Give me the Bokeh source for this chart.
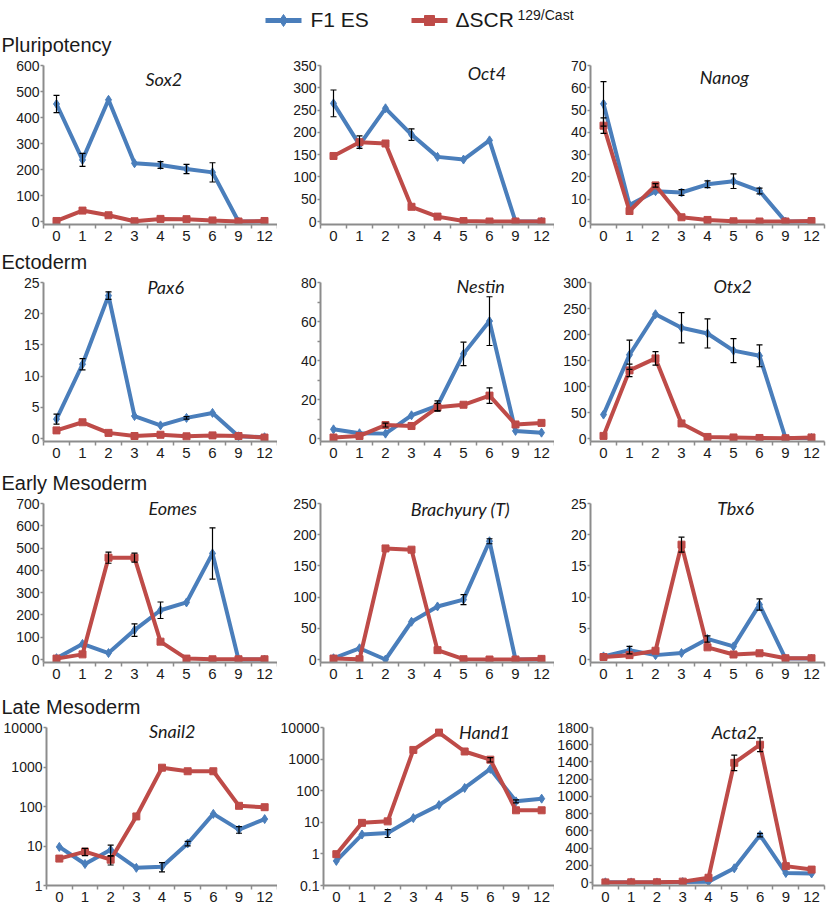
import math
from bokeh.plotting import figure
from bokeh.layouts import column, row
from bokeh.models import Range1d, FixedTicker, ColumnDataSource, Whisker, TeeHead, Label
from bokeh.embed import file_html
from bokeh.resources import INLINE

# ---------------- data ----------------
days = ["0", "1", "2", "3", "4", "5", "6", "9", "12"]
series_names = ["F1 ES", "\u0394SCR", "129/Cast"]

sox2_f1 = [452, 237, 468, 224, 217, 202, 189, 0, 0]
sox2_f1_err = [33, 25, 0, 0, 13, 18, 37, 0, 0]
sox2_scr = [2, 42, 24, 1, 10, 9, 4, 0, 2]
sox2_scr_err = [0, 0, 0, 0, 0, 0, 0, 0, 0]

oct4_f1 = [265, 172, 254, 195, 145, 139, 182, 0, 0]
oct4_f1_err = [30, 0, 0, 13, 0, 0, 0, 0, 0]
oct4_scr = [147, 178, 175, 33, 11, 1, 0, 0, 0]
oct4_scr_err = [0, 14, 0, 0, 0, 0, 0, 0, 0]

nanog_f1 = [52.8, 7.4, 13.6, 13.0, 16.7, 18.1, 13.7, 0, 0]
nanog_f1_err = [10, 0, 0, 1.3, 1.5, 3.3, 1.3, 0, 0]
nanog_scr = [43, 4.7, 16.2, 1.9, 0.7, 0.1, 0, 0, 0.2]
nanog_scr_err = [3.5, 0, 0.8, 0, 0, 0, 0, 0, 0]

pax6_f1 = [3.1, 11.9, 22.9, 3.6, 2.1, 3.3, 4.1, 0.35, 0.2]
pax6_f1_err = [0.8, 0.9, 0.6, 0, 0, 0.2, 0, 0, 0]
pax6_scr = [1.3, 2.6, 0.9, 0.4, 0.6, 0.35, 0.5, 0.4, 0.15]
pax6_scr_err = [0, 0, 0, 0, 0, 0, 0, 0, 0]

nestin_f1 = [4.7, 2.7, 2.5, 11.9, 16.8, 43.4, 60.2, 3.9, 3.0]
nestin_f1_err = [0, 0, 0, 0, 2.5, 6, 12.5, 0, 0]
nestin_scr = [0.5, 1.3, 6.9, 6.4, 16.0, 17.3, 22.0, 7.2, 8.0]
nestin_scr_err = [0, 0, 1, 0, 2, 0, 4, 0, 0]

otx2_f1 = [46, 161, 239, 213, 202, 169, 159, 1, 1]
otx2_f1_err = [0, 28, 0, 29, 28, 23, 21, 0, 0]
otx2_scr = [5, 131, 154, 29, 3, 2, 1, 0.5, 2]
otx2_scr_err = [0, 12, 13, 0, 0, 0, 0, 0, 0]

eomes_f1 = [6, 70, 29, 132, 221, 256, 476, 0, 0]
eomes_f1_err = [0, 0, 0, 28, 37, 0, 115, 0, 0]
eomes_scr = [4, 23, 457, 457, 80, 4, 1, 1, 1]
eomes_scr_err = [0, 0, 25, 20, 0, 0, 0, 0, 0]

brachy_f1 = [2, 18, 0, 60.5, 85, 96, 189.5, 0, 0]
brachy_f1_err = [0, 0, 0, 0, 0, 8, 4, 0, 0]
brachy_scr = [1.5, 0.5, 178, 176, 15, 0.5, 0, 0, 1]
brachy_scr_err = [0, 0, 0, 0, 0, 0, 0, 0, 0]

tbx6_f1 = [0.5, 1.5, 0.7, 1.05, 3.3, 2.1, 8.8, 0.15, 0.15]
tbx6_f1_err = [0, 0.6, 0, 0, 0.5, 0, 0.9, 0, 0]
tbx6_scr = [0.4, 0.7, 1.4, 18.4, 1.95, 0.8, 1.0, 0.2, 0.2]
tbx6_scr_err = [0, 0, 0, 1.2, 0, 0, 0, 0, 0]

snail2_f1 = [9.5, 3.5, 8.0, 2.8, 3.0, 11.6, 65, 26, 48]
snail2_f1_err = [0, 0, 2.5, 0, 0.8, 1.5, 0, 5, 0]
snail2_scr = [4.8, 7.2, 4.5, 56, 960, 780, 780, 104, 96]
snail2_scr_err = [0, 1.5, 1.2, 0, 0, 0, 0, 0, 0]

hand1_f1 = [0.6, 4.1, 4.6, 13.6, 35, 122, 490, 46, 56]
hand1_f1_err = [0, 0, 1.3, 0, 0, 0, 0, 5, 0]
hand1_scr = [0.98, 9.6, 10.7, 1950, 6900, 1740, 960, 24, 24]
hand1_scr_err = [0, 0, 0, 0, 0, 0, 150, 0, 0]

acta2_f1 = [2, 1, 1, 5, 10, 165, 550, 110, 105]
acta2_f1_err = [0, 0, 0, 0, 0, 0, 20, 0, 0]
acta2_scr = [1, 2, 3, 10, 55, 1390, 1600, 190, 150]
acta2_scr_err = [0, 0, 0, 0, 0, 90, 80, 0, 0]

sox2_ticks = [0, 100, 200, 300, 400, 500, 600]
oct4_ticks = [0, 50, 100, 150, 200, 250, 300, 350]
nanog_ticks = [0, 10, 20, 30, 40, 50, 60, 70]
pax6_ticks = [0, 5, 10, 15, 20, 25]
nestin_ticks = [0, 20, 40, 60, 80]
otx2_ticks = [0, 50, 100, 150, 200, 250, 300]
eomes_ticks = [0, 100, 200, 300, 400, 500, 600, 700]
brachy_ticks = [0, 50, 100, 150, 200, 250]
tbx6_ticks = [0, 5, 10, 15, 20, 25]
snail2_ticks = [1, 10, 100, 1000, 10000]
hand1_ticks = [0.1, 1, 10, 100, 1000, 10000]
acta2_ticks = [0, 200, 400, 600, 800, 1000, 1200, 1400, 1600, 1800]

section_names = ["Pluripotency", "Ectoderm", "Early Mesoderm", "Late Mesoderm"]

# ---------------- style ----------------
BLUE = "#4A7EBB"
RED = "#BE4B48"
AXC = "#8C8C8C"
TXT = "#1A1A1A"
FONT = "Liberation Sans"
FW = 234
TOP = 2      # canvas border above the frame
EXT = 7      # frame space kept above the top tick
PAD = 3      # frame space kept below zero (linear panels)
BL = [43, 43, 36]
BR = [0, 0, 2]
TOTAL_W = sum(BL) + sum(BR) + 3 * FW


def add_whisker(p, xs, vals, errs):
    idx = [i for i, e in enumerate(errs) if e > 0]
    if not idx:
        return
    src = ColumnDataSource(dict(
        x=[xs[i] for i in idx],
        upper=[vals[i] + errs[i] for i in idx],
        lower=[vals[i] - errs[i] for i in idx],
    ))
    w = Whisker(base="x", upper="upper", lower="lower", source=src, dimension="height",
                line_color="black", line_width=1.2,
                upper_head=TeeHead(size=6, line_color="black", line_width=1.2),
                lower_head=TeeHead(size=6, line_color="black", line_width=1.2),
                level="annotation")
    p.add_layout(w)


def panel(title, f1, f1e, scr, scre, yticks, log, title_x, title_off, col, fh, bot, yminor=None):
    bl = BL[col]
    br = BR[col]
    ymin, ymax = yticks[0], yticks[-1]
    frame_h = fh + EXT
    if log:
        l0, l1 = math.log10(ymin), math.log10(ymax)
        per_px = (l1 - l0) / fh
        yr = Range1d(ymin, 10 ** (l1 + EXT * per_px))
        ty = 10 ** (l1 - title_off * per_px)
        ybounds = (ymin, ymax)
    else:
        per_px = ymax / (fh - PAD)
        yr = Range1d(-PAD * per_px, ymax + EXT * per_px)
        ty = ymax - title_off * per_px
        ybounds = (-PAD * per_px, ymax)
    xs = list(range(len(days)))
    p = figure(width=bl + FW + br, height=TOP + frame_h + bot,
               x_range=Range1d(-0.5, len(days) - 0.5), y_range=yr,
               y_axis_type="log" if log else "linear",
               toolbar_location=None, output_backend="svg",
               min_border_left=bl, min_border_right=br,
               min_border_top=TOP, min_border_bottom=bot)
    p.grid.visible = False
    p.outline_line_color = None

    # x axis (categorical days)
    xa = p.xaxis[0]
    xa.ticker = FixedTicker(ticks=xs, minor_ticks=[i - 0.5 for i in range(len(days) + 1)])
    xa.major_label_overrides = {i: d for i, d in enumerate(days)}
    xa.major_tick_line_color = None
    xa.major_tick_out = 0
    xa.major_tick_in = 0
    xa.minor_tick_out = 4
    xa.minor_tick_in = 0
    xa.minor_tick_line_color = AXC
    xa.minor_tick_line_width = 1.5
    xa.axis_line_color = AXC
    xa.axis_line_width = 2
    xa.major_label_text_font = FONT
    xa.major_label_text_font_size = "15px"
    xa.major_label_text_color = TXT
    xa.major_label_standoff = 2

    # y axis
    ya = p.yaxis[0]
    ya.ticker = FixedTicker(ticks=yticks, minor_ticks=yminor or [])
    ya.bounds = ybounds
    if log:
        ya.major_label_overrides = {t: ("%g" % t) for t in yticks}
    ya.axis_line_color = AXC
    ya.axis_line_width = 2
    ya.major_tick_line_color = AXC
    ya.major_tick_line_width = 1.5
    ya.major_tick_out = 3
    ya.major_tick_in = 0
    ya.minor_tick_out = 3
    ya.minor_tick_in = 0
    ya.minor_tick_line_color = AXC if yminor else None
    ya.minor_tick_line_width = 1.5
    ya.major_label_text_font = FONT
    ya.major_label_text_font_size = "14px"
    ya.major_label_text_color = TXT
    ya.major_label_standoff = 1

    # series
    sb = ColumnDataSource(dict(x=xs, y=f1))
    p.line("x", "y", source=sb, line_color=BLUE, line_width=4)
    p.scatter("x", "y", source=sb, marker="diamond", size=9, color=BLUE)
    sr = ColumnDataSource(dict(x=xs, y=scr))
    p.line("x", "y", source=sr, line_color=RED, line_width=4)
    p.scatter("x", "y", source=sr, marker="square", size=7, color=RED)
    add_whisker(p, xs, f1, f1e)
    add_whisker(p, xs, scr, scre)

    # gene title
    p.add_layout(Label(x=title_x, y=ty, text=title, text_align="center", text_baseline="middle",
                       text_font="Lato", text_font_style="italic", text_font_size="18px",
                       text_color=TXT))
    return p


def section(text, h, ymid):
    f = figure(width=TOTAL_W, height=h, x_range=Range1d(0, TOTAL_W), y_range=Range1d(0, h),
               toolbar_location=None, output_backend="svg", min_border=0,
               x_axis_location=None, y_axis_location=None)
    f.grid.visible = False
    f.outline_line_color = None
    f.add_layout(Label(x=1, y=ymid, text=text, text_font=FONT, text_font_size="20px",
                       text_color=TXT, text_baseline="middle"))
    return f


# legend
LH = 31
lg = figure(width=TOTAL_W, height=LH, x_range=Range1d(0, TOTAL_W), y_range=Range1d(0, LH),
            toolbar_location=None, output_backend="svg", min_border=0,
            x_axis_location=None, y_axis_location=None)
lg.grid.visible = False
lg.outline_line_color = None
lg.line(x=[265, 301], y=[11, 11], line_color=BLUE, line_width=5)
lg.scatter(x=[283], y=[11], marker="diamond", size=12, color=BLUE)
lg.add_layout(Label(x=310, y=12, text=series_names[0], text_font=FONT, text_font_size="21px",
                    text_color=TXT, text_baseline="middle"))
lg.line(x=[411, 447], y=[11, 11], line_color=RED, line_width=5)
lg.scatter(x=[429], y=[11], marker="square", size=10, color=RED)
lg.add_layout(Label(x=455, y=12, text=series_names[1], text_font=FONT, text_font_size="21px",
                    text_color=TXT, text_baseline="middle"))
lg.add_layout(Label(x=517, y=17, text=series_names[2], text_font=FONT, text_font_size="14px",
                    text_color=TXT, text_baseline="middle"))

r1 = row(
    panel("Sox2", sox2_f1, sox2_f1_err, sox2_scr, sox2_scr_err, sox2_ticks, False, 4.13, 13, 0, 159, 24),
    panel("Oct4", oct4_f1, oct4_f1_err, oct4_scr, oct4_scr_err, oct4_ticks, False, 5.9, 7, 1, 159, 24),
    panel("Nanog", nanog_f1, nanog_f1_err, nanog_scr, nanog_scr_err, nanog_ticks, False, 4.65, 11, 2, 159, 24),
)
r2 = row(
    panel("Pax6", pax6_f1, pax6_f1_err, pax6_scr, pax6_scr_err, pax6_ticks, False, 4.2, 4, 0, 159, 28),
    panel("Nestin", nestin_f1, nestin_f1_err, nestin_scr, nestin_scr_err, nestin_ticks, False, 5.66, 3, 1,
          159, 28, yminor=[10, 30, 50, 70]),
    panel("Otx2", otx2_f1, otx2_f1_err, otx2_scr, otx2_scr_err, otx2_ticks, False, 4.97, 3, 2, 159, 28),
)
r3 = row(
    panel("Eomes", eomes_f1, eomes_f1_err, eomes_scr, eomes_scr_err, eomes_ticks, False, 4.47, 4, 0, 159, 31),
    panel("Brachyury (T)", brachy_f1, brachy_f1_err, brachy_scr, brachy_scr_err, brachy_ticks, False, 4.88, 5,
          1, 159, 31),
    panel("Tbx6", tbx6_f1, tbx6_f1_err, tbx6_scr, tbx6_scr_err, tbx6_ticks, False, 5.08, 4, 2, 159, 31),
)
r4 = row(
    panel("Snail2", snail2_f1, snail2_f1_err, snail2_scr, snail2_scr_err, snail2_ticks, True, 4.4, 3, 0, 158, 20),
    panel("Hand1", hand1_f1, hand1_f1_err, hand1_scr, hand1_scr_err, hand1_ticks, True, 5.78, 4, 1, 158, 20),
    panel("Acta2", acta2_f1, acta2_f1_err, acta2_scr, acta2_scr_err, acta2_ticks, False, 5.0, 4, 2, 158, 20),
)

layout = column(lg, section(section_names[0], 25, 12), r1,
                section(section_names[1], 25, 12), r2,
                section(section_names[2], 25, 12), r3,
                section(section_names[3], 25, 12), r4)

open("out.html", "w").write(file_html(layout, INLINE))
